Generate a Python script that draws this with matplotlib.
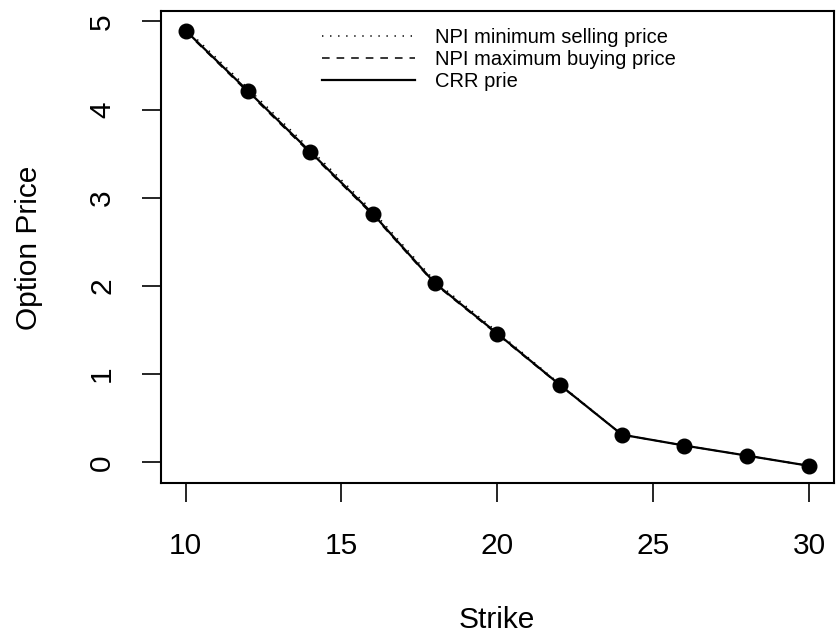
import numpy as np
import matplotlib
matplotlib.use("Agg")
import matplotlib.pyplot as plt
from matplotlib.lines import Line2D

plt.rcParams['font.family'] = ['Liberation Sans', 'DejaVu Sans']
plt.rcParams['lines.scale_dashes'] = False

strike = [10, 12, 14, 16, 18, 20, 22, 24, 26, 28, 30]
crr_price = [4.895, 4.21, 3.52, 2.82, 2.03, 1.46, 0.88, 0.313, 0.19, 0.076, -0.04]
npi_min_sell = [4.92, 4.24, 3.55, 2.85, 2.055, 1.48, 0.89, 0.313, 0.19, 0.076, -0.04]
npi_max_buy = [4.885, 4.195, 3.505, 2.805, 2.02, 1.45, 0.875, 0.313, 0.19, 0.076, -0.04]
xticks = [10, 15, 20, 25, 30]
yticks = [0, 1, 2, 3, 4, 5]
legend_labels = ['NPI minimum selling price', 'NPI maximum buying price', 'CRR prie']

dotted = (0, (1.0, 4.8))
dashed = (0, (5.5, 5.0))

fig = plt.figure(figsize=(8.4, 6.41), dpi=100)
ax = fig.add_axes([0.1913, 0.246, 0.8015, 0.737])

ax.plot(strike, npi_min_sell, color='black', lw=1.1, ls=dotted)
ax.plot(strike, npi_max_buy, color='black', lw=1.1, ls=dashed)
ax.plot(strike, crr_price, color='black', lw=1.6, marker='o', ms=10.5)

# R-style 4% padding around the data range
allv = np.concatenate([crr_price, npi_min_sell, npi_max_buy])
lo, hi = allv.min(), allv.max()
pad = 0.04 * (hi - lo)
ax.set_ylim(lo - pad, hi + pad)
xpad = 0.04 * (max(strike) - min(strike))
ax.set_xlim(min(strike) - xpad, max(strike) + xpad)

ax.set_xticks(xticks)
ax.set_yticks(yticks)
ax.tick_params(axis='both', length=14, width=1.2, labelsize=21.5, direction='out')
ax.tick_params(axis='x', pad=21)
ax.tick_params(axis='y', pad=18, labelrotation=90)
for lab in ax.get_yticklabels():
    lab.set_va('center')
for s in ax.spines.values():
    s.set_linewidth(1.5)

fig.text(0.5917, 0.033, 'Strike', ha='center', va='center', fontsize=21.5)
fig.text(0.0345, 0.614, 'Option Price', ha='center', va='center',
         rotation=90, fontsize=21.5)

handles = [Line2D([], [], color='black', lw=1.1, ls=dotted),
           Line2D([], [], color='black', lw=1.1, ls=dashed),
           Line2D([], [], color='black', lw=1.6)]
ax.legend(handles, legend_labels, loc='upper left',
          bbox_to_anchor=(322 / 840, 1 - 28 / 641),
          bbox_transform=fig.transFigure, frameon=False, fontsize=14.5,
          handlelength=4.6, handletextpad=1.0, labelspacing=0.16,
          borderpad=0, borderaxespad=0)

fig.savefig('out.png', dpi=100)
